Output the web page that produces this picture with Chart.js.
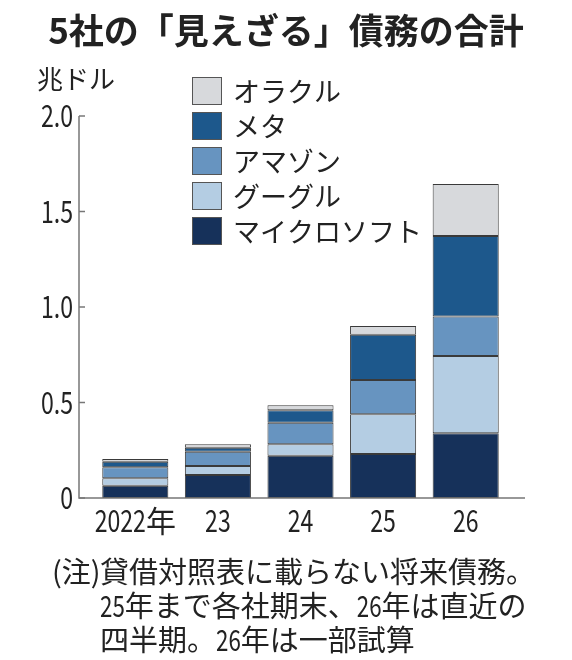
<!DOCTYPE html>
<html>
<head>
<meta charset="utf-8">
<script src="https://cdn.jsdelivr.net/npm/chart.js@4"></script>
<style>
  html, body { margin: 0; padding: 0; background: #fff; }
  canvas { display: block; }
</style>
</head>
<body>
<canvas id="debtChart" width="572" height="660"></canvas>
<script>
// Categories and series (trillion dollars)
const years = ['2022年', '23', '24', '25', '26'];
const microsoft = [0.064, 0.120, 0.221, 0.230, 0.339];
const google = [0.039, 0.047, 0.060, 0.208, 0.405];
const amazon = [0.058, 0.075, 0.113, 0.180, 0.206];
const meta = [0.029, 0.021, 0.066, 0.237, 0.422];
const oracle = [0.014, 0.019, 0.026, 0.046, 0.272];
const yTickLabels = ['0', '0.5', '1.0', '1.5', '2.0'];

const unitLabel = '兆ドル';
const notePrefix = '(注)';
const noteLines = [
  '貸借対照表に載らない将来債務。',
  '25年まで各社期末、26年は直近の',
  '四半期。26年は一部試算'
];

const jpFont = '"Noto Sans CJK JP", "Noto Sans", sans-serif';
const textColor = '#222';
const axisColor = '#777';
const axisX = 79; // where the y axis line sits, left of the first bar slot

function series(label, values, color) {
  return {
    label: label,
    data: values,
    backgroundColor: color,
    borderColor: '#3a3a3a',
    borderWidth: 1,
    borderSkipped: false,
    categoryPercentage: 1.0,
    barPercentage: 0.8
  };
}

// stack order bottom -> top
const datasets = [
  series('マイクロソフト', microsoft, '#16315a'),
  series('グーグル', google, '#b4cde3'),
  series('アマゾン', amazon, '#6794c0'),
  series('メタ', meta, '#1d588c'),
  series('オラクル', oracle, '#d7d9dc')
];

// the original uses narrow numerals: draw digit runs squeezed, the rest as is
const digitSqueeze = 0.77;
function mixedText(ctx, text, x, y, align) {
  const parts = text.match(/[0-9.]+|[^0-9.]+/g) || [];
  const widths = parts.map(function(p) {
    const w = ctx.measureText(p).width;
    return /^[0-9.]+$/.test(p) ? w * digitSqueeze : w;
  });
  const total = widths.reduce(function(a, b) { return a + b; }, 0);
  let cx = align === 'right' ? x - total : align === 'center' ? x - total / 2 : x;
  ctx.save();
  ctx.textAlign = 'left';
  parts.forEach(function(p, i) {
    if (/^[0-9.]+$/.test(p)) {
      ctx.save();
      ctx.translate(cx, y);
      ctx.scale(digitSqueeze, 1);
      ctx.fillText(p, 0, 0);
      ctx.restore();
    } else {
      ctx.fillText(p, cx, y);
    }
    cx += widths[i];
  });
  ctx.restore();
}

// axes, tick labels, legend, unit label and the note under the chart
const decorations = {
  id: 'decorations',
  afterDraw: function(chart) {
    const ctx = chart.ctx;
    const area = chart.chartArea;
    const xScale = chart.scales.x;
    const yScale = chart.scales.y;
    ctx.save();

    // axis lines
    ctx.strokeStyle = axisColor;
    ctx.lineWidth = 1.5;
    ctx.beginPath();
    ctx.moveTo(axisX, area.top);
    ctx.lineTo(axisX, area.bottom);
    ctx.lineTo(525, area.bottom);
    ctx.stroke();

    // short ticks pointing into the plot + labels
    ctx.fillStyle = textColor;
    ctx.font = '30px ' + jpFont;
    ctx.textBaseline = 'middle';
    yScale.ticks.forEach(function(t, i) {
      const py = yScale.getPixelForTick(i);
      ctx.beginPath();
      ctx.moveTo(axisX, py);
      ctx.lineTo(axisX + 6, py);
      ctx.stroke();
      mixedText(ctx, yTickLabels[i], axisX - 6, py, 'right');
    });
    xScale.ticks.forEach(function(t, i) {
      mixedText(ctx, years[i], xScale.getPixelForTick(i), area.bottom + 23, 'center');
    });

    // unit
    ctx.font = '26px ' + jpFont;
    ctx.textAlign = 'left';
    ctx.fillText(unitLabel, 37, 79);

    // legend (top of stack first)
    const items = chart.data.datasets.slice().reverse();
    ctx.font = '27px ' + jpFont;
    items.forEach(function(ds, i) {
      const top = 77 + i * 35;
      ctx.fillStyle = ds.backgroundColor;
      ctx.fillRect(192, top, 30, 28);
      ctx.strokeStyle = '#555';
      ctx.lineWidth = 1;
      ctx.strokeRect(192.5, top + 0.5, 29, 27);
      ctx.fillStyle = textColor;
      ctx.fillText(ds.label, 233, top + 15);
    });

    // note
    ctx.font = '29px ' + jpFont;
    ctx.fillText(notePrefix, 52, 572);
    noteLines.forEach(function(line, i) {
      mixedText(ctx, line, 100, 572 + i * 34, 'left');
    });

    ctx.restore();
  }
};

new Chart(document.getElementById('debtChart').getContext('2d'), {
  type: 'bar',
  data: { labels: years, datasets: datasets },
  options: {
    responsive: false,
    animation: false,
    layout: { padding: 0 },
    plugins: {
      legend: { display: false },
      tooltip: { enabled: false },
      title: {
        display: true,
        text: '5社の「見えざる」債務の合計',
        color: textColor,
        font: { family: jpFont, size: 35, weight: 'bold', lineHeight: 1.2 },
        padding: { top: 10, bottom: 64 }
      }
    },
    scales: {
      x: {
        stacked: true,
        afterFit: function(scale) { scale.height = 162; },
        grid: { display: false },
        border: { display: false },
        ticks: { display: false }
      },
      y: {
        stacked: true,
        min: 0,
        max: 2.0,
        afterFit: function(scale) { scale.width = 94; },
        grid: { display: false },
        border: { display: false },
        ticks: { display: false, stepSize: 0.5 }
      },
      // empty spacer on the right so the bar slots line up with the original
      spacer: {
        type: 'linear',
        position: 'right',
        afterFit: function(scale) { scale.width = 65; },
        grid: { display: false },
        border: { display: false },
        ticks: { display: false }
      }
    }
  },
  plugins: [decorations]
});
</script>
</body>
</html>
